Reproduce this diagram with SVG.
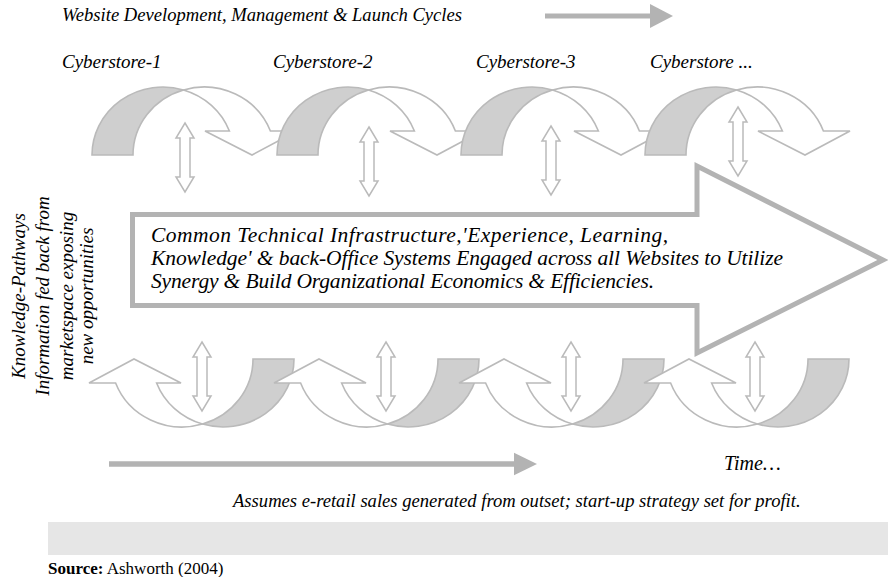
<svg xmlns="http://www.w3.org/2000/svg" width="888" height="577" viewBox="0 0 888 577">
  <style>
    .t { font-family: "Liberation Serif", "Times New Roman", serif; font-style: italic; fill: #000; }
    .back { fill: #cfcfcf; stroke: #bababa; stroke-width: 1.6; stroke-linejoin: miter; }
    .front { fill: #fff; stroke: #bababa; stroke-width: 1.6; stroke-linejoin: miter; }
    .ud { fill: #fff; stroke: #bababa; stroke-width: 1.5; }
    .big { fill: #fff; stroke: #b3b3b3; stroke-width: 5; stroke-linejoin: miter; }
    .bar { stroke: #b3b3b3; }
    .head { fill: #b3b3b3; }
  </style>
  <defs>
    <!-- curved arrow: shaded back face + white front band ending in a downward head; base line at y=0 -->
    <g id="curved">
      <path class="back" d="M0,0 A71,68 0 0 1 91.5,-65.1 A71,68 0 0 0 41,0 Z"/>
      <path class="front" d="M91.5,-65.1 A71,68 0 0 1 178.4,-24 L205,-24 L160,0 L113,-24 L137.4,-24 A71,68 0 0 0 91.5,-65.1 Z"/>
    </g>
    <!-- up-down double arrow, 69 tall, centred on x=0 -->
    <path id="updown" class="ud" d="M0,0 L9,15 L5,15 L5,54 L9,54 L0,69 L-9,54 L-5,54 L-5,15 L-9,15 Z"/>
  </defs>

  <rect width="888" height="577" fill="#fff"/>

  <!-- headings -->
  <text class="t" x="62" y="21" font-size="18.6">Website Development, Management &amp; Launch Cycles</text>
  <g id="cycle-arrow">
    <line class="bar" x1="545" y1="16" x2="652" y2="16" stroke-width="5"/>
    <polygon class="head" points="650,4 673,16 650,28"/>
  </g>
  <text class="t" x="62" y="68" font-size="19">Cyberstore-1</text>
  <text class="t" x="273" y="68" font-size="19">Cyberstore-2</text>
  <text class="t" x="476" y="68" font-size="19">Cyberstore-3</text>
  <text class="t" x="650" y="68" font-size="19">Cyberstore ...</text>

  <!-- launch cycles (top row) -->
  <g id="cycle-top-1"><use href="#curved" transform="translate(92,155)"/></g>
  <g id="cycle-top-2"><use href="#curved" transform="translate(277,155)"/></g>
  <g id="cycle-top-3"><use href="#curved" transform="translate(461,155)"/></g>
  <g id="cycle-top-4"><use href="#curved" transform="translate(645,155)"/></g>

  <!-- central infrastructure arrow -->
  <g id="infrastructure">
    <polygon class="big" points="132.5,214.5 697,214.5 697,166 883,260 697,353 697,305.5 132.5,305.5"/>
    <text class="t" font-size="21.5">
      <tspan x="151" y="242" textLength="517" lengthAdjust="spacing">Common Technical Infrastructure,'Experience, Learning,</tspan>
      <tspan x="151" y="265" textLength="632" lengthAdjust="spacing">Knowledge' &amp; back-Office Systems Engaged across all Websites to Utilize</tspan>
      <tspan x="151" y="288" textLength="503" lengthAdjust="spacing">Synergy &amp; Build Organizational Economics &amp; Efficiencies.</tspan>
    </text>
  </g>

  <!-- knowledge pathways (bottom row) -->
  <g id="cycle-bottom-1"><use href="#curved" transform="translate(294,359) rotate(180)"/></g>
  <g id="cycle-bottom-2"><use href="#curved" transform="translate(479,359) rotate(180)"/></g>
  <g id="cycle-bottom-3"><use href="#curved" transform="translate(664,359) rotate(180)"/></g>
  <g id="cycle-bottom-4"><use href="#curved" transform="translate(849,359) rotate(180)"/></g>

  <!-- links between cycles and the shared infrastructure -->
  <g id="connectors">
    <use href="#updown" transform="translate(185,123)"/>
    <use href="#updown" transform="translate(369,127)"/>
    <use href="#updown" transform="translate(551,126)"/>
    <use href="#updown" transform="translate(738,107)"/>
    <use href="#updown" transform="translate(202,342)"/>
    <use href="#updown" transform="translate(386,342)"/>
    <use href="#updown" transform="translate(571,342)"/>
    <use href="#updown" transform="translate(755,342)"/>
  </g>

  <!-- side caption -->
  <g id="pathways-label" class="t" font-size="19" text-anchor="middle">
    <text transform="translate(25,296) rotate(-90)">Knowledge-Pathways</text>
    <text transform="translate(49,296) rotate(-90)">Information fed back from</text>
    <text transform="translate(73,296) rotate(-90)">marketspace exposing</text>
    <text transform="translate(93,296) rotate(-90)">new opportunities</text>
  </g>

  <!-- time axis -->
  <g id="time-arrow">
    <line class="bar" x1="109" y1="464" x2="516" y2="464" stroke-width="5.3"/>
    <polygon class="head" points="514,452.7 537,464 514,475.3"/>
  </g>
  <text class="t" x="724" y="470" font-size="20">Time…</text>

  <text class="t" x="233" y="507" font-size="18.6">Assumes e-retail sales generated from outset; start-up strategy set for profit.</text>
  <rect x="48" y="522" width="840" height="33" fill="#e6e6e6"/>
  <text x="48" y="574" font-family="Liberation Serif, Times New Roman, serif" font-size="17"><tspan font-weight="bold">Source:</tspan> Ashworth (2004)</text>
</svg>
